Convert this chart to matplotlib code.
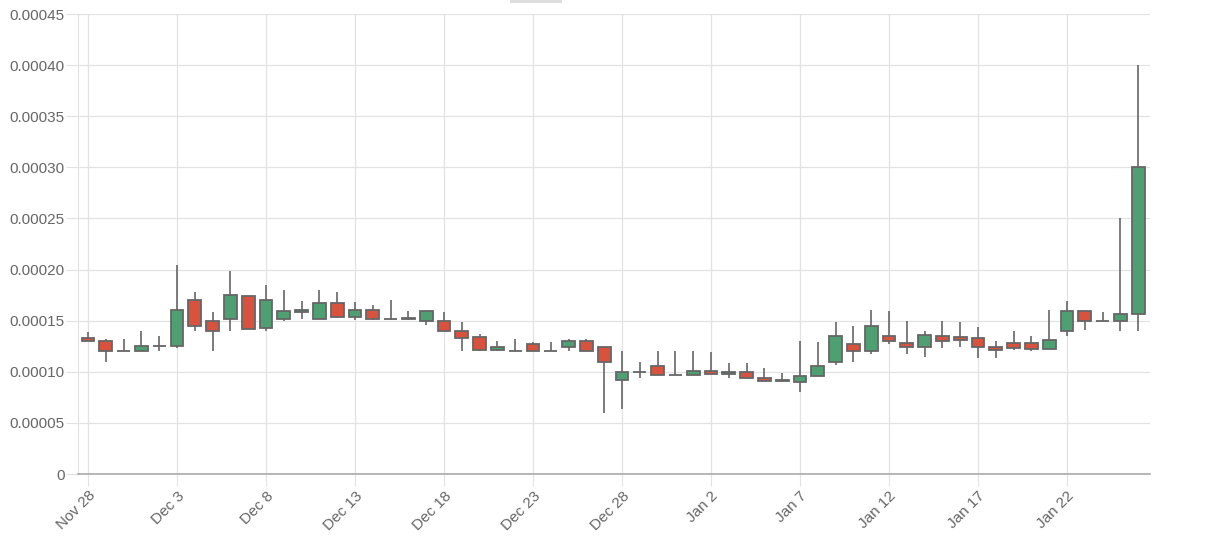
import numpy as np
import matplotlib
matplotlib.use("Agg")
import matplotlib.pyplot as plt
from matplotlib.patches import Rectangle
from datetime import date, timedelta

# daily OHLC, starting Nov 28
start = date(2017, 11, 28)
opens = [0.000133, 0.000130, 0.000120, 0.000120, 0.000125, 0.000125, 0.000170, 0.000150,
         0.000152, 0.000174, 0.000143, 0.000152, 0.000158, 0.000152, 0.000167, 0.000154,
         0.000160, 0.000152, 0.000152, 0.000150, 0.000150, 0.000140, 0.000134, 0.000121,
         0.000120, 0.000127, 0.000120, 0.000124, 0.000130, 0.000124, 0.000092, 0.000100,
         0.000106, 0.000097, 0.000097, 0.000101, 0.000098, 0.000100, 0.000094, 0.000092,
         0.000090, 0.000096, 0.000110, 0.000127, 0.000120, 0.000135, 0.000128, 0.000124,
         0.000135, 0.000134, 0.000133, 0.000124, 0.000128, 0.000128, 0.000122, 0.000140,
         0.000159, 0.000150, 0.000150, 0.000157]
highs = [0.000139, 0.000132, 0.000132, 0.000140, 0.000135, 0.000204, 0.000178, 0.000158,
         0.000199, 0.000174, 0.000185, 0.000180, 0.000169, 0.000180, 0.000178, 0.000168,
         0.000165, 0.000170, 0.000159, 0.000159, 0.000158, 0.000149, 0.000137, 0.000130,
         0.000132, 0.000129, 0.000129, 0.000132, 0.000132, 0.000124, 0.000120, 0.000110,
         0.000120, 0.000120, 0.000120, 0.000119, 0.000109, 0.000109, 0.000104, 0.000099,
         0.000130, 0.000129, 0.000149, 0.000145, 0.000160, 0.000159, 0.000150, 0.000140,
         0.000150, 0.000149, 0.000144, 0.000130, 0.000140, 0.000135, 0.000160, 0.000169,
         0.000159, 0.000158, 0.000250, 0.000400]
lows = [0.000130, 0.000110, 0.000120, 0.000120, 0.000120, 0.000123, 0.000140, 0.000120,
        0.000140, 0.000142, 0.000140, 0.000150, 0.000152, 0.000152, 0.000153, 0.000151,
        0.000151, 0.000151, 0.000151, 0.000146, 0.000140, 0.000120, 0.000120, 0.000120,
        0.000120, 0.000120, 0.000120, 0.000120, 0.000120, 0.000060, 0.000064, 0.000094,
        0.000097, 0.000097, 0.000097, 0.000098, 0.000094, 0.000094, 0.000091, 0.000091,
        0.000080, 0.000096, 0.000107, 0.000110, 0.000117, 0.000127, 0.000117, 0.000114,
        0.000123, 0.000124, 0.000113, 0.000113, 0.000121, 0.000120, 0.000122, 0.000135,
        0.000141, 0.000150, 0.000140, 0.000140]
closes = [0.000130, 0.000120, 0.000120, 0.000125, 0.000125, 0.000160, 0.000145, 0.000140,
          0.000175, 0.000142, 0.000170, 0.000159, 0.000160, 0.000167, 0.000154, 0.000160,
          0.000152, 0.000152, 0.000153, 0.000159, 0.000140, 0.000133, 0.000121, 0.000124,
          0.000120, 0.000120, 0.000120, 0.000130, 0.000120, 0.000110, 0.000100, 0.000100,
          0.000097, 0.000097, 0.000101, 0.000098, 0.000100, 0.000094, 0.000091, 0.000091,
          0.000096, 0.000106, 0.000135, 0.000120, 0.000145, 0.000130, 0.000124, 0.000136,
          0.000130, 0.000131, 0.000124, 0.000121, 0.000123, 0.000122, 0.000131, 0.000159,
          0.000150, 0.000150, 0.000157, 0.000300]
y_ticks = [0, 0.00005, 0.0001, 0.00015, 0.0002, 0.00025, 0.0003, 0.00035, 0.0004, 0.00045]

up_color = "#4e9f72"
down_color = "#d8523e"
edge_color = "#666666"
grid_color = "#e2e2e2"
text_color = "#666666"

fig = plt.figure(figsize=(12.16, 5.44), dpi=100)
ax = fig.add_axes([78 / 1216, 70 / 544, (1150 - 78) / 1216, 460 / 544])

days = np.arange(len(opens))
width = 0.72
for d, o, h, l, c in zip(days, opens, highs, lows, closes):
    ax.vlines(d, l, h, color=edge_color, linewidth=1.2, zorder=2)
    lo, hi = min(o, c), max(o, c)
    ax.add_patch(Rectangle((d - width / 2, lo), width, max(hi - lo, 1e-7),
                           facecolor=up_color if c >= o else down_color,
                           edgecolor=edge_color, linewidth=1.3, zorder=3))

ax.set_xlim(-0.56, 59.66)
ax.set_ylim(0, 0.00045)

# x ticks every 5 days
xt = list(range(0, len(days), 5))
labels = []
for d in xt:
    dt = start + timedelta(days=int(d))
    labels.append(dt.strftime("%b") + " " + str(dt.day))
ax.set_xticks(xt)
ax.set_xticklabels(labels, rotation=45, ha="right", rotation_mode="anchor")
ax.set_yticks(y_ticks)
ax.set_yticklabels(["0"] + ["%.5f" % v for v in y_ticks[1:]])

ax.grid(True, color=grid_color, linewidth=0.9, zorder=0)
ax.set_axisbelow(True)
for s in ["top", "right"]:
    ax.spines[s].set_visible(False)
ax.spines["left"].set_color(grid_color)
ax.spines["bottom"].set_color("#aaaaaa")
ax.spines["bottom"].set_linewidth(1.2)
ax.tick_params(axis="both", colors=grid_color, length=8.5, labelcolor=text_color,
               labelsize=11)
ax.tick_params(axis="y", pad=1)
ax.tick_params(axis="x", pad=2)
for t in ax.get_xticklabels() + ax.get_yticklabels():
    t.set_fontfamily(["Liberation Sans", "DejaVu Sans"])

# small grey tab at the top
fig.patches.append(Rectangle((510 / 1216, 541 / 544), 52 / 1216, 4 / 544,
                             transform=fig.transFigure, facecolor="#dddddd",
                             edgecolor="none"))

fig.savefig("out.png", dpi=100)
